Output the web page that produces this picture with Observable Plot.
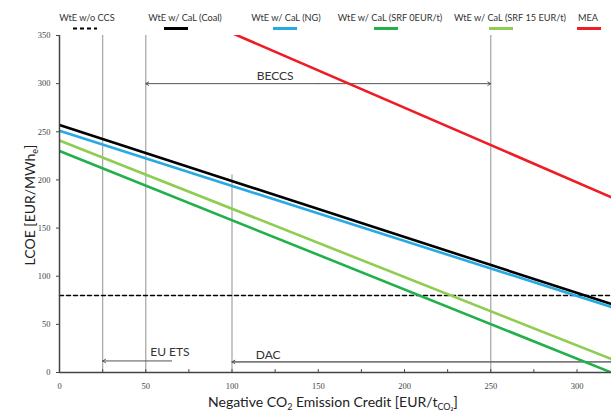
<!DOCTYPE html>
<html><head><meta charset="utf-8">
<script src="https://cdn.jsdelivr.net/npm/d3@7"></script>
<script src="https://cdn.jsdelivr.net/npm/@observablehq/plot@0.6"></script>
<style>
body{margin:0;background:#fff;}
#wrap{width:611px;}
#legend{display:block;}
#chart svg{display:block;}
</style></head><body>
<div id="wrap"><svg id="legend" width="611" height="30"></svg><div id="chart"></div></div>
<script>
// ---- data ----
const credit = [0, 320];                       // EUR/tCO2 (x extent of the lines)
const seriesNames = ["WtE w/o CCS","WtE w/ CaL (Coal)","WtE w/ CaL (NG)","WtE w/ CaL (SRF 0EUR/t)","WtE w/ CaL (SRF 15 EUR/t)","MEA"];
const seriesColors = ["#000000","#000000","#27aae1","#22b04b","#8fcd52","#ee1c24"];
const lcoeWoCCS = [80, 80];
const lcoeCoal  = [257, 71];
const lcoeNG    = [251, 68];
const lcoeSRF0  = [230, 0];
const lcoeSRF15 = [241, 14];
const lcoeMEA   = [430, 182];
const seriesValues = [lcoeWoCCS, lcoeCoal, lcoeNG, lcoeSRF0, lcoeSRF15, lcoeMEA];

const refCredits = [25, 50, 100, 250];         // vertical reference lines
const refTops    = [350, 350, 205, 350];
const xTicks = [0, 50, 100, 150, 200, 250, 300];
const xMinorTicks = [0, 25, 50, 75, 100, 125, 150, 175, 200, 225, 250, 275, 300];
const yTicks = [0, 50, 100, 150, 200, 250, 300, 350];

const annotLabels = ["BECCS", "EU ETS", "DAC"];
const annotX = [125, 64, 121];
const annotY = [304, 17.5, 14.5];
// arrows (head at x2)
const arrowsData = [
  {x1: 150, x2: 50, y: 300},
  {x1: 150, x2: 250, y: 300},
  {x1: 65, x2: 25, y: 12},
  {x1: 320, x2: 100, y: 11}
];

// ---- table ----
const rows = [];
seriesNames.forEach((name, i) => {
  credit.forEach((c, j) => rows.push({series: name, credit: c, lcoe: seriesValues[i][j]}));
});
const refs = refCredits.map((c, i) => ({c, top: refTops[i]}));
const annots = annotLabels.map((t, i) => ({t, x: annotX[i], y: annotY[i]}));

const solid = seriesNames.slice(1);

const chart = Plot.plot({
  width: 611, height: 384,
  marginLeft: 59, marginRight: 0, marginTop: 5, marginBottom: 42,
  x: {domain: [0, 320]},
  y: {domain: [0, 350]},
  style: {fontFamily: "'Liberation Serif', 'Times New Roman', serif", fontSize: "8.5px", color: "#444", background: "white", overflow: "visible"},
  marks: [
    Plot.ruleX(refs, {x: "c", y1: 0, y2: "top", stroke: "#aaa", strokeWidth: 1.3}),
    Plot.ruleY([0], {y: () => 11, x1: 100, x2: 320, stroke: "#999", strokeWidth: 1.2}),
    Plot.arrow(arrowsData, {x1: "x1", x2: "x2", y1: "y", y2: "y", stroke: "#555", strokeWidth: 1, headLength: 5}),
    Plot.line(rows.filter(d => d.series === seriesNames[0]), {x: "credit", y: "lcoe", stroke: "#000", strokeWidth: 1.5, strokeDasharray: "4,3"}),
    Plot.line(rows.filter(d => solid.includes(d.series)), {x: "credit", y: "lcoe", z: "series",
      stroke: d => seriesColors[seriesNames.indexOf(d.series)], strokeWidth: 2.6, clip: true}),
    Plot.text(annots, {x: "x", y: "y", text: "t", lineAnchor: "bottom", fontFamily: "Lato, 'Open Sans', sans-serif", fontSize: 12, fill: "#333"}),
    Plot.ruleX(xMinorTicks, {x: d => d, y1: 0, y2: 3, stroke: "#444", strokeWidth: 1}),
    Plot.axisY({ticks: yTicks, tickSize: 3, tickPadding: 6, label: null}),
    Plot.axisX({ticks: xTicks, tickSize: 0, tickPadding: 10, label: null}),
    Plot.ruleY([0], {stroke: "#444", strokeWidth: 1.5}),
    Plot.ruleX([0], {stroke: "#444", strokeWidth: 1.5})
  ]
});
document.getElementById("chart").appendChild(chart);

// axis titles with subscripts
const svg = d3.select(chart);
const xl = svg.append("text").attr("x", 333).attr("y", 377).attr("text-anchor", "middle")
  .attr("font-family", "Lato, 'Open Sans', sans-serif").attr("font-size", 14).attr("fill", "#222");
xl.append("tspan").text("Negative CO");
xl.append("tspan").attr("dy", 3).attr("font-size", 9).text("2");
xl.append("tspan").attr("dy", -3).text(" Emission Credit [EUR/t");
xl.append("tspan").attr("dy", 3).attr("font-size", 9).text("CO₂");
xl.append("tspan").attr("dy", -3).text("]");

const yl = svg.append("text").attr("transform", "translate(35,175) rotate(-90)").attr("text-anchor", "middle")
  .attr("font-family", "Lato, 'Open Sans', sans-serif").attr("font-size", 14).attr("fill", "#222");
yl.append("tspan").text("LCOE [EUR/MWh");
yl.append("tspan").attr("dy", 3).attr("font-size", 9).text("e");
yl.append("tspan").attr("dy", -3).text("]");

// legend
const legTextX = [87, 185, 286, 390, 510, 588];
const legLineX = [85, 176, 285, 386, 501, 589];
const leg = d3.select("#legend");
seriesNames.forEach((name, i) => {
  leg.append("text").attr("x", legTextX[i]).attr("y", 21).attr("text-anchor", "middle")
    .attr("font-family", "Lato, 'Open Sans', sans-serif").attr("font-size", 9.2).attr("fill", "#333").text(name);
  leg.append("line").attr("x1", legLineX[i] - 12).attr("x2", legLineX[i] + 12).attr("y1", 28.5).attr("y2", 28.5)
    .attr("stroke", seriesColors[i]).attr("stroke-width", i === 0 ? 2 : 3)
    .attr("stroke-dasharray", i === 0 ? "4,3" : null);
});
</script></body></html>
